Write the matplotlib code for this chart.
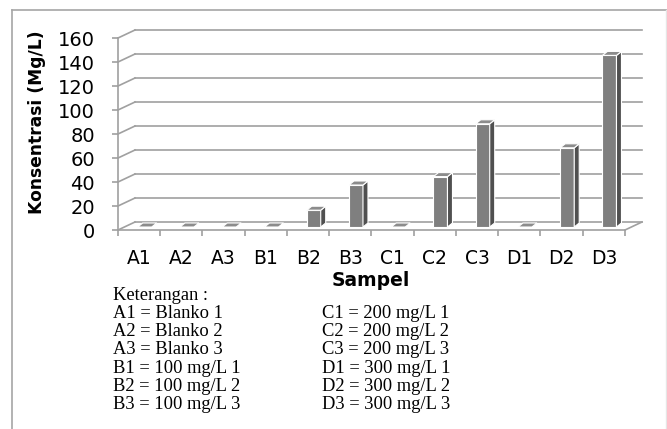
import matplotlib
matplotlib.use('Agg')
import matplotlib.pyplot as plt
import matplotlib.transforms as mtransforms
from matplotlib.patches import Polygon
from matplotlib.lines import Line2D

# Data
samples = ['A1', 'A2', 'A3', 'B1', 'B2', 'B3', 'C1', 'C2', 'C3', 'D1', 'D2', 'D3']
konsentrasi = [0, 0, 0, 0, 14, 35, 0, 42, 86, 0, 66, 143]
yticks = [0, 20, 40, 60, 80, 100, 120, 140, 160]

keterangan_kiri = ['A1 = Blanko 1', 'A2 = Blanko 2', 'A3 = Blanko 3',
                   'B1 = 100 mg/L 1', 'B2 = 100 mg/L 2', 'B3 = 100 mg/L 3']
keterangan_kanan = ['C1 = 200 mg/L 1', 'C2 = 200 mg/L 2', 'C3 = 200 mg/L 3',
                    'D1 = 300 mg/L 1', 'D2 = 300 mg/L 2', 'D3 = 300 mg/L 3']

W, H = 667, 429
fig = plt.figure(figsize=(W / 100, H / 100), dpi=100)

# axes = front plane of the fake 3d box (pixels)
x0, x1, y0, y1 = 118, 625, 230, 38
ax = fig.add_axes([x0 / W, 1 - y0 / H, (x1 - x0) / W, (y0 - y1) / H])
ax.set_xlim(-0.5, len(samples) - 0.5)
ax.set_ylim(0, 160)
ax.patch.set_visible(False)

ux = len(samples) / (x1 - x0)   # data units per pixel
uy = 160 / (y0 - y1)

grid_c = '#a0a0a0'
depth_x, depth_y = 17 * ux, 8 * uy

# back wall gridlines and left wall diagonals
xl, xr = -0.5, len(samples) - 0.5
for v in yticks:
    ax.plot([xl + depth_x, xr + depth_x], [v + depth_y, v + depth_y],
            color=grid_c, lw=1.2, clip_on=False, zorder=1)
    ax.plot([xl, xl + depth_x], [v, v + depth_y], color=grid_c, lw=1.2,
            clip_on=False, zorder=1)
ax.plot([xr, xr + depth_x], [0, depth_y], color=grid_c, lw=1.2,
        clip_on=False, zorder=1)

# bars: front faces + side and top faces
tr = mtransforms.offset_copy(ax.transData, fig=fig, x=0, y=3, units='dots')
bw = 14 * ux
sx, sy = 5 * ux, 4 * uy
xs = [i - 1.4 * ux for i in range(len(samples))]
ax.bar(xs, konsentrasi, width=bw, align='edge', color='#7f7f7f',
       edgecolor='white', lw=0.8, transform=tr, zorder=3)
for x, v in zip(xs, konsentrasi):
    side = Polygon([(x + bw, 0), (x + bw + sx, sy), (x + bw + sx, v + sy), (x + bw, v)],
                   closed=True, facecolor='#505050', edgecolor='white', lw=0.8,
                   transform=tr, zorder=3, clip_on=False)
    top = Polygon([(x, v), (x + bw, v), (x + bw + sx, v + sy), (x + sx, v + sy)],
                  closed=True, facecolor='#8c8c8c', edgecolor='white', lw=0.8,
                  transform=tr, zorder=3, clip_on=False)
    ax.add_patch(side)
    ax.add_patch(top)

# axes look
for s in ['top', 'right']:
    ax.spines[s].set_visible(False)
for s in ['left', 'bottom']:
    ax.spines[s].set_color(grid_c)
    ax.spines[s].set_linewidth(1.2)
    ax.spines[s].set_zorder(2)

ax.set_yticks(yticks)
ax.tick_params(axis='y', length=4.5, width=1.2, color=grid_c, pad=12,
               labelsize=14)
ax.set_xticks(range(len(samples)))
ax.set_xticklabels(samples)
ax.set_xticks([i - 0.5 for i in range(len(samples) + 1)], minor=True)
ax.tick_params(axis='x', which='major', length=0, pad=13.5, labelsize=13.5)
ax.tick_params(axis='x', which='minor', length=4.5, width=1.2, color=grid_c)

fig.text(37 / W, 1 - 122 / H, 'Konsentrasi (Mg/L)', rotation=90,
         ha='center', va='center', fontsize=12.3, fontweight='bold')
fig.text(371 / W, 1 - 285.5 / H, 'Sampel', ha='center', va='baseline',
         fontsize=13.5, fontweight='bold')

# keterangan (legend text)
serif = 'Liberation Serif'
fs = 13.3
fig.text(113 / W, 1 - 299.5 / H, 'Keterangan :', ha='left', va='baseline',
         fontsize=fs, family=serif)
for i, (a, b) in enumerate(zip(keterangan_kiri, keterangan_kanan)):
    yb = 1 - (317.8 + 18.25 * i) / H
    fig.text(113 / W, yb, a, ha='left', va='baseline', fontsize=fs, family=serif)
    fig.text(322 / W, yb, b, ha='left', va='baseline', fontsize=fs, family=serif)

# outer frame
fig.add_artist(Line2D([12 / W, 12 / W], [0, 1 - 10 / H], color='#a6a6a6', lw=1.2))
fig.add_artist(Line2D([12 / W, 1], [1 - 10 / H, 1 - 10 / H], color='#a6a6a6', lw=1.2))
fig.add_artist(Line2D([665.5 / W, 665.5 / W], [0, 1 - 10 / H], color='#e6e6e6', lw=1))

fig.savefig('out.png', dpi=100)
